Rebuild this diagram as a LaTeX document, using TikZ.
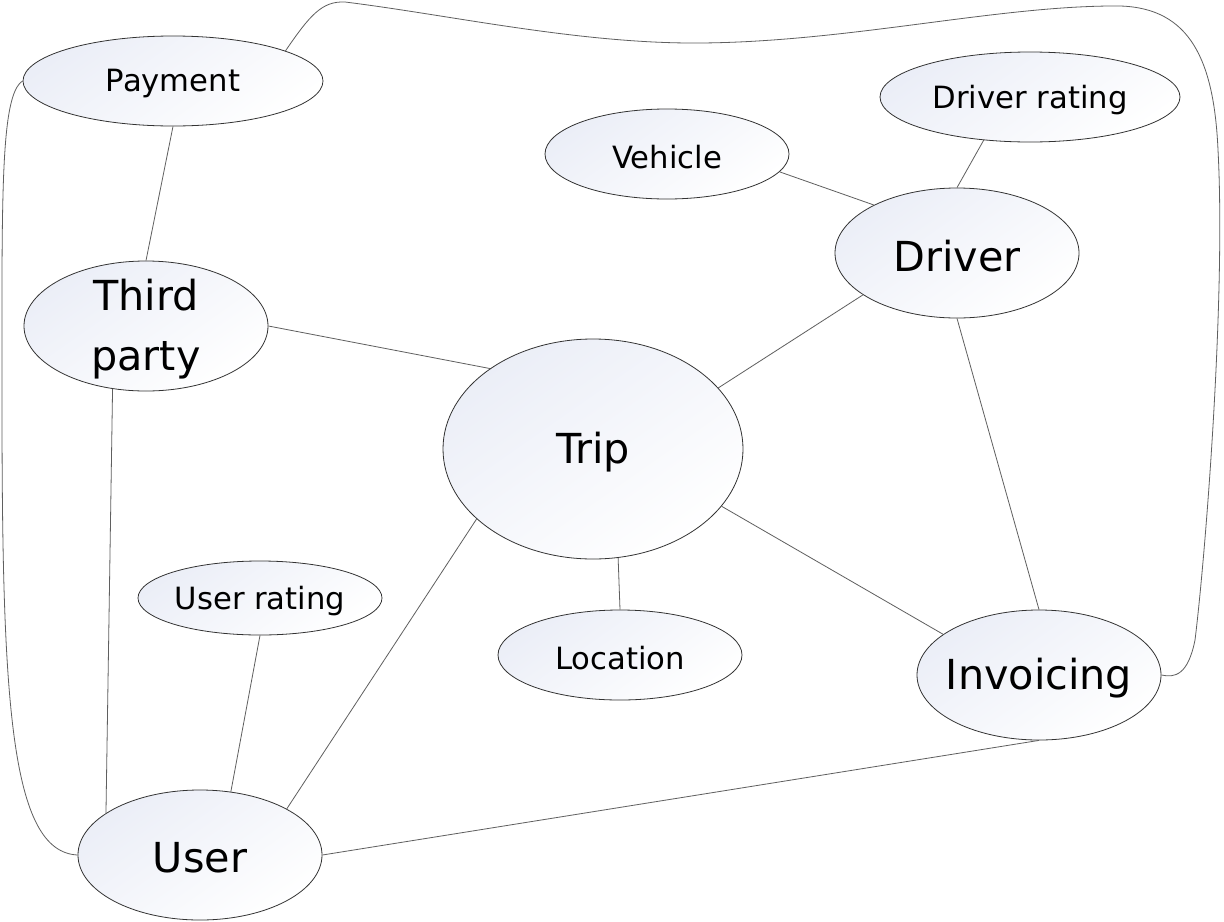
\documentclass[tikz,border=0pt]{standalone}
\usepackage{fontspec}
\setmainfont{DejaVu Sans}
\usetikzlibrary{shapes.geometric}
\definecolor{edgegray}{HTML}{5F5F5F}
\definecolor{bordergray}{HTML}{333333}
\definecolor{shadeblue}{HTML}{EBEEF7}
\begin{document}
\begin{tikzpicture}[x=0.75pt,y=-0.75pt,
  ent/.style={ellipse, draw=bordergray, line width=0.6pt, inner sep=0pt,
    top color=shadeblue, bottom color=white, shading angle=35},
  small/.style={font=\fontsize{23}{27}\selectfont, yshift=-2pt},
  big/.style={font=\fontsize{31}{45}\selectfont, yshift=-2pt},
  link/.style={draw=edgegray, line width=0.6pt}]
\useasboundingbox (0,0) rectangle (1224,921);
\fill[white] (0,0) rectangle (1224,921);

\node[ent, minimum width=225pt, minimum height=67.5pt, label={[small]center:Payment}] (pay) at (173,81) {};
\node[ent, minimum width=183pt, minimum height=67.5pt, label={[small]center:Vehicle}] (veh) at (667,154) {};
\node[ent, minimum width=225pt, minimum height=67.5pt, label={[small]center:Driver rating}] (drr) at (1030,97) {};
\node[ent, minimum width=183pt, minimum height=97.5pt, label={[big]center:Driver}] (drv) at (957,253) {};
\node[ent, minimum width=183pt, minimum height=97.5pt, label={[big,align=center]center:Third\\party}] (tp) at (146,326) {};
\node[ent, minimum width=225pt, minimum height=165pt, label={[big]center:Trip}] (trip) at (593,449) {};
\node[ent, minimum width=183pt, minimum height=55.5pt, label={[small]center:User rating}] (ur) at (260,598) {};
\node[ent, minimum width=183pt, minimum height=67.5pt, label={[small]center:Location}] (loc) at (620,655) {};
\node[ent, minimum width=183pt, minimum height=97.5pt, label={[big]center:Invoicing}] (inv) at (1039,675) {};
\node[ent, minimum width=183pt, minimum height=97.5pt, label={[big]center:User}] (usr) at (200,855) {};

\draw[link] (pay.270) -- (tp.90);
\draw[link] (veh.-9.7) -- (drv.150.8);
\draw[link] (drr.223.7) -- (drv.90);
\draw[link] (tp.0) -- (trip.142.4);
\draw[link] (drv.204) -- (trip.26.7);
\draw[link] (drv.270) -- (inv.90);
\draw[link] (trip.-24.9) -- (inv.157.5);
\draw[link] (trip.-77.3) -- (loc.90);
\draw[link] (trip.211.3) -- (usr.28.4);
\draw[link] (ur.270) -- (usr.64.2);
\draw[link] (tp.242) -- (usr.156.4);
\draw[link] (usr.0) -- (inv.270);

\draw[link] (pay.15.6) .. controls (310,15) and (322,1) .. (345,2)
  .. controls (450,15) and (580,44) .. (700,43)
  .. controls (850,42) and (1000,5) .. (1120,6)
  .. controls (1190,8) and (1214,60) .. (1218,150)
  .. controls (1226,300) and (1205,560) .. (1195,640)
  .. controls (1188,675) and (1175,678) .. (inv.0);
\draw[link] (pay.180) .. controls (0,95) and (2,200) .. (2,400)
  .. controls (2,700) and (10,852) .. (usr.180);
\end{tikzpicture}
\end{document}
